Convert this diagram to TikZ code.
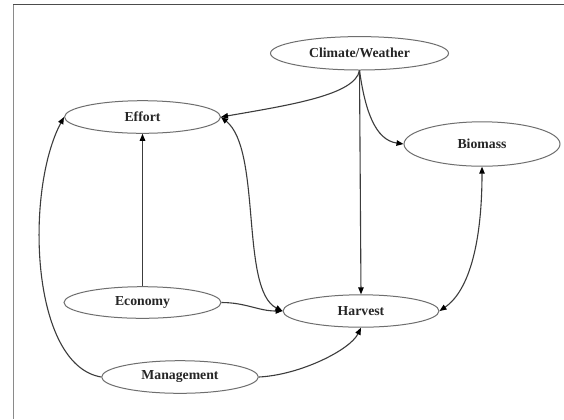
\documentclass[tikz,border=0pt]{standalone}
\usepackage{fontspec}
\setmainfont{Liberation Serif}
\usetikzlibrary{shapes.geometric,arrows.meta}
\definecolor{ringgray}{HTML}{6E6E6E}
\definecolor{edgegray}{HTML}{3C3C3C}
\definecolor{framegray}{HTML}{8A8A8A}
\begin{document}
\begin{tikzpicture}[x=1bp,y=-1bp,
  oval/.style={ellipse,draw=ringgray,line width=1bp,inner sep=0pt,
    font=\fontsize{13.8}{16}\selectfont\bfseries,text=black!85},
  link/.style={draw=edgegray,line width=1.1bp,
    -{Triangle[length=7bp,width=5.5bp,color=black]}},
  blink/.style={draw=edgegray,line width=1.1bp,
    {Triangle[length=7bp,width=5.5bp,color=black]}-{Triangle[length=7bp,width=5.5bp,color=black]}}]
\useasboundingbox (0,0) rectangle (564,419);
\fill[white] (0,0) rectangle (564,419);
% frame
\coordinate (fc) at (13.3,4.7);
\coordinate (fb) at (13.3,419);
\coordinate (fr) at (564,4.7);
\draw[framegray,line width=1.2bp] (fc) -- (fb);
\draw[black!70,line width=1.2bp] (fc) -- (fr);
% nodes
\node[oval,minimum width=178bp,minimum height=33.4bp] (clim) at (359.5,53.3) {Climate/Weather};
\node[oval,minimum width=156bp,minimum height=32.6bp] (eff) at (142.5,117) {Effort};
\node[oval,minimum width=156bp,minimum height=44.4bp] (bio) at (482,144) {Biomass};
\node[oval,minimum width=157bp,minimum height=31.6bp] (eco) at (142.5,302.5) {Economy};
\node[oval,minimum width=156bp,minimum height=32.4bp] (har) at (361,311) {Harvest};
\node[oval,minimum width=156.6bp,minimum height=32.6bp] (man) at (180,377) {Management};
% edges
\draw[link] (clim.south) .. controls (355,95) and (290,105) .. (eff.east);
\draw[link] (clim.south) -- (har.north);
\draw[link] (clim.south) .. controls (365,110) and (375,140) .. (bio.west);
\draw[link] (eco.north) -- (eff.south);
\draw[link] (eco.east) to[out=0,in=180] (har.west);
\draw[blink] (eff.east) .. controls (262,150) and (240,290) .. (har.west);
\draw[blink] (bio.south) .. controls (482,240) and (470,290) .. (har.east);
\draw[link] (man.west) .. controls (30,365) and (25,190) .. (eff.west);
\draw[link] (man.east) .. controls (300,375) and (350,350) .. (har.south);
\end{tikzpicture}
\end{document}
